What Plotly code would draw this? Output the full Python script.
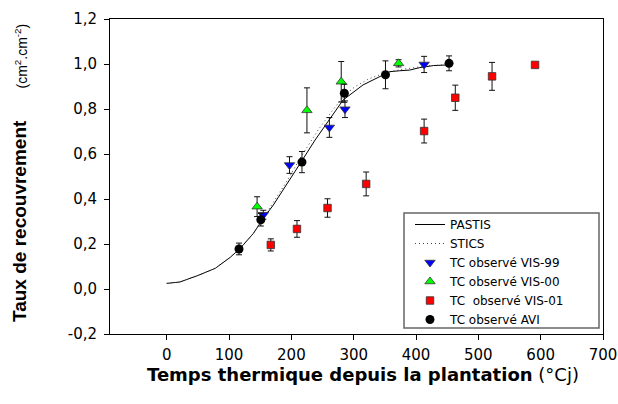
import plotly.graph_objects as go

# ---- data ----
pastis_x = [0, 21, 50, 78, 102, 118, 139, 155, 171, 193, 216, 238, 262, 283, 315, 337, 358, 374, 390, 406, 428, 453]
pastis_y = [0.025, 0.031, 0.06, 0.092, 0.141, 0.181, 0.247, 0.314, 0.373, 0.47, 0.566, 0.662, 0.759, 0.84, 0.907, 0.936, 0.966, 0.97, 0.973, 0.984, 0.993, 0.996]

stics_x = [0, 21, 50, 78, 102, 118, 139, 155, 171, 193, 216, 243, 265, 285, 302, 325, 350, 375, 400, 425, 453]
stics_y = [0.025, 0.031, 0.06, 0.092, 0.141, 0.181, 0.247, 0.316, 0.38, 0.48, 0.59, 0.707, 0.79, 0.86, 0.899, 0.935, 0.96, 0.975, 0.985, 0.993, 0.997]

vis99_x = [155, 197, 261, 286, 413]
vis99_y = [0.330, 0.551, 0.718, 0.799, 0.998]
vis99_e = [0.02, 0.037, 0.044, 0.037, 0.036]

vis00_x = [145, 225, 280, 372]
vis00_y = [0.366, 0.794, 0.921, 1.003]
vis00_e = [0.044, 0.10, 0.09, 0.016]

vis01_x = [167, 209, 258, 320, 413, 463, 522, 591]
vis01_y = [0.196, 0.267, 0.360, 0.467, 0.702, 0.850, 0.945, 0.996]
vis01_e = [0.027, 0.037, 0.041, 0.053, 0.053, 0.056, 0.062, 0.0]

avi_x = [116, 151, 217, 285, 351, 453]
avi_y = [0.178, 0.308, 0.564, 0.870, 0.952, 1.003]
avi_e = [0.026, 0.028, 0.047, 0.04, 0.062, 0.033]

y_ticks = [-0.2, 0.0, 0.2, 0.4, 0.6, 0.8, 1.0, 1.2]
y_ticktext = ["-0,2", "0,0", "0,2", "0,4", "0,6", "0,8", "1,0", "1,2"]
x_ticks = [0, 100, 200, 300, 400, 500, 600, 700]

# ---- figure ----
fig = go.Figure()
fig.add_trace(go.Scatter(x=pastis_x, y=pastis_y, mode="lines", name="PASTIS",
                         line=dict(color="black", width=1)))
fig.add_trace(go.Scatter(x=stics_x, y=stics_y, mode="lines", name="STICS",
                         line=dict(color="#444", width=1, dash="1px,3px")))

def err(e):
    return dict(type="data", array=e, visible=True, color="#111", thickness=1, width=3)

fig.add_trace(go.Scatter(x=vis99_x, y=vis99_y, mode="markers", name="TC observé VIS-99",
                         error_y=err(vis99_e),
                         marker=dict(symbol="triangle-down", size=9, color="#0000ff",
                                     line=dict(color="#333", width=0.8))))
fig.add_trace(go.Scatter(x=vis00_x, y=vis00_y, mode="markers", name="TC observé VIS-00",
                         error_y=err(vis00_e),
                         marker=dict(symbol="triangle-up", size=9, color="#00ff00",
                                     line=dict(color="#333", width=0.8))))
fig.add_trace(go.Scatter(x=vis01_x, y=vis01_y, mode="markers", name="TC\u00a0 observé VIS-01",
                         error_y=err(vis01_e),
                         marker=dict(symbol="square", size=7.5, color="#ff0000",
                                     line=dict(color="#333", width=0.8))))
fig.add_trace(go.Scatter(x=avi_x, y=avi_y, mode="markers", name="TC observé AVI",
                         error_y=err(avi_e),
                         marker=dict(symbol="circle", size=9, color="black")))

L, R, T, B = 110, 15, 19, 70
PW, PH = 618 - L - R, 404 - T - B
fig.update_layout(
    width=618, height=404,
    margin=dict(l=L, r=R, t=T, b=B, autoexpand=False),
    paper_bgcolor="white", plot_bgcolor="white",
    font=dict(family="DejaVu Sans", color="black"),
    showlegend=True,
    legend=dict(x=(410 - L) / PW, y=(334 - 210) / PH, xanchor="left", yanchor="top",
                borderwidth=0, bgcolor="rgba(0,0,0,0)",
                font=dict(family="DejaVu Sans", size=12, color="black"),
                tracegroupgap=0, itemwidth=30),
    xaxis=dict(range=[-91, 700], tickvals=x_ticks, ticks="outside", ticklen=5,
               tickcolor="black", showline=True, linecolor="black", linewidth=1,
               mirror=True, showgrid=False, zeroline=False, automargin=False,
               tickfont=dict(family="DejaVu Sans", size=15), ticklabelstandoff=2),
    yaxis=dict(range=[-0.2, 1.2], tickvals=y_ticks, ticktext=y_ticktext,
               ticks="outside", ticklen=5, tickcolor="black", showline=True,
               linecolor="black", linewidth=1, mirror=True, showgrid=False,
               zeroline=False, automargin=False,
               tickfont=dict(family="DejaVu Sans", size=15),
               ticklabelstandoff=4),
)

# legend frame
fig.add_shape(type="rect", xref="paper", yref="paper",
              x0=(404 - L) / PW, x1=(599 - L) / PW,
              y0=(334 - 328) / PH, y1=(334 - 213) / PH,
              line=dict(color="#666", width=1.5), fillcolor="rgba(0,0,0,0)", layer="above")

fig.add_annotation(
    text="<b>Temps thermique depuis la plantation</b> (°Cj)",
    xref="paper", yref="paper", x=(363 - L) / PW, y=0, xanchor="center", yanchor="top",
    yshift=-28, showarrow=False,
    font=dict(family="DejaVu Sans", size=18, color="black"))
fig.add_annotation(
    text="<b>Taux de recouvrement</b>",
    xref="paper", yref="paper", x=(20 - L) / PW, y=(334 - 221) / PH,
    xanchor="center", yanchor="middle", textangle=-90, showarrow=False,
    font=dict(family="Liberation Sans, Arial", size=19, color="black"))
fig.add_annotation(
    text="(cm<sup>2</sup>.cm<sup>-2</sup>)",
    xref="paper", yref="paper", x=(21 - L) / PW, y=(334 - 56.5) / PH,
    xanchor="center", yanchor="middle", textangle=-90, showarrow=False,
    font=dict(family="Liberation Sans, Arial", size=14, color="black"))

fig.write_html("out.html")
